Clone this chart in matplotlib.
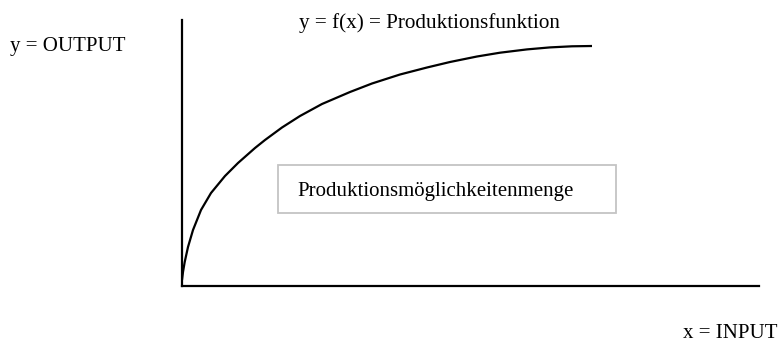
import matplotlib
matplotlib.use("Agg")
import matplotlib.pyplot as plt
from matplotlib.patches import Rectangle

input_x = [0, 1, 2.7, 6, 11, 19, 29, 43, 56, 73, 83, 100, 118, 140, 168,
           190, 218, 245, 268, 295, 318, 345, 368, 390, 410]
output_y = [6, 14, 24, 39, 56, 76, 93, 110, 123, 138, 146, 158.5, 170, 182, 194,
            202.5, 211.5, 218.5, 224, 229.5, 233.3, 236.6, 238.6, 239.7, 240]

title_text = "y = f(x) = Produktionsfunktion"
ylabel_text = "y = OUTPUT"
xlabel_text = "x = INPUT"
box_text = "Produktionsmöglichkeitenmenge"

plt.rcParams['font.family'] = ['Liberation Serif', 'DejaVu Serif']

W, H = 779, 342
fig = plt.figure(figsize=(W / 100, H / 100), dpi=100)
ax = fig.add_axes([182 / W, (H - 286) / H, (759 - 182) / W, (286 - 20) / H])
ax.set_xlim(0, 577)
ax.set_ylim(0, 266)
for s in ["top", "right"]:
    ax.spines[s].set_visible(False)
for s in ["left", "bottom"]:
    ax.spines[s].set_linewidth(1.6)
ax.set_xticks([])
ax.set_yticks([])

ax.plot(input_x, output_y, color="black", lw=1.6, solid_capstyle="butt",
        solid_joinstyle="round")

# Kasten fuer die Produktionsmoeglichkeitenmenge
ax.add_patch(Rectangle((96, 73), 338, 48, fill=False, edgecolor="#c4c4c4", lw=1.3))
ax.text(115, 90, box_text, fontsize=15, va="baseline", ha="left")

ax.text(117, 258, title_text, fontsize=15.2, va="baseline", ha="left", clip_on=False)
ax.text(-172, 235, ylabel_text, fontsize=15, va="baseline", ha="left", clip_on=False)
ax.text(501, -52, xlabel_text, fontsize=15, va="baseline", ha="left", clip_on=False)

fig.savefig("out.png", dpi=100)
